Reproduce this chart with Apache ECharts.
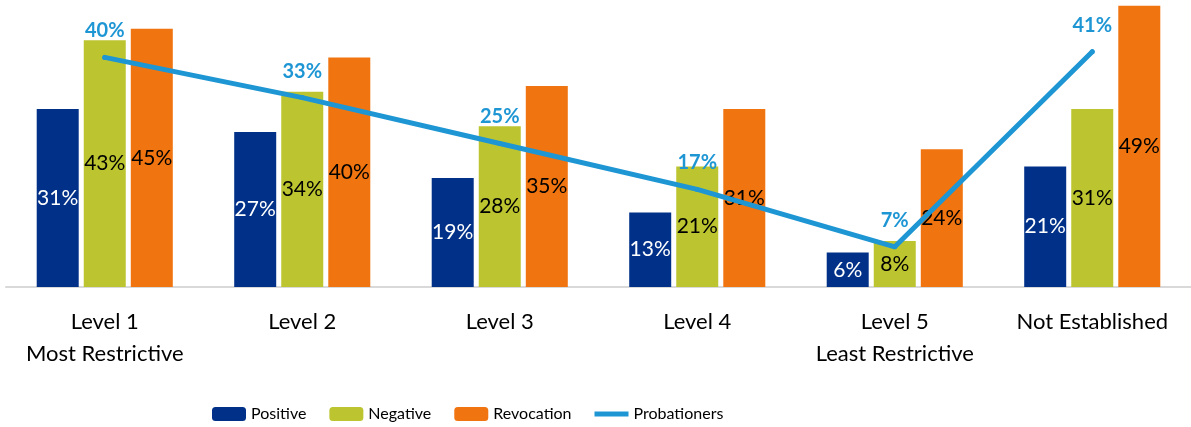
<!DOCTYPE html>
<html lang="en">
<head>
    <meta charset="UTF-8">
    <title>Probationers by level</title>
    <script type="text/javascript" src="https://cdn.jsdelivr.net/npm/echarts@6/dist/echarts.min.js"></script>
    <style>
        html, body { margin: 0; padding: 0; background: #fff; }
        #main { width: 1191px; height: 427px; }
    </style>
</head>
<body>
<div id="main"></div>
<script>
    // categories
    var levels = ['Level 1\nMost Restrictive', 'Level 2', 'Level 3', 'Level 4', 'Level 5\nLeast Restrictive', 'Not Established'];
    // series values (%)
    var positive = [31, 27, 19, 13, 6, 21];
    var negative = [43, 34, 28, 21, 8, 31];
    var revocation = [45, 40, 35, 31, 24, 49];
    var probationers = [40, 33, 25, 17, 7, 41];

    var font = 'Lato';
    var chart = echarts.init(document.getElementById('main'));

    function barLabel(color) {
        return {
            show: true,
            position: 'inside',
            formatter: '{c}%',
            color: color,
            fontFamily: font,
            fontSize: 21
        };
    }

    var option = {
        animation: false,
        grid: {
            left: 6,
            width: 1189,
            top: 0,
            bottom: 140
        },
        legend: {
            left: 207,
            bottom: 0,
            itemWidth: 34,
            itemHeight: 14,
            itemGap: 23,
            textStyle: { fontFamily: font, fontSize: 16, color: '#000' },
            data: ['Positive', 'Negative', 'Revocation', {
                name: 'Probationers',
                icon: 'path://M0,0 L34,0 L34,5 L0,5 Z'
            }]
        },
        xAxis: {
            type: 'category',
            data: levels,
            axisLine: { lineStyle: { color: '#d9d9d9', width: 2 } },
            axisTick: { show: false },
            axisLabel: {
                color: '#000',
                fontFamily: font,
                fontSize: 22,
                lineHeight: 32,
                margin: 19,
                interval: 0
            }
        },
        yAxis: {
            type: 'value',
            min: 0,
            max: 50,
            show: false,
            splitLine: { show: false }
        },
        series: [
            {
                name: 'Positive',
                type: 'bar',
                barWidth: 42,
                barGap: '12%',
                itemStyle: { color: '#003087' },
                label: barLabel('#fff'),
                data: positive
            },
            {
                name: 'Negative',
                type: 'bar',
                barWidth: 42,
                barGap: '12%',
                itemStyle: { color: '#bcc52f' },
                label: barLabel('#000'),
                data: negative
            },
            {
                name: 'Revocation',
                type: 'bar',
                barWidth: 42,
                barGap: '12%',
                itemStyle: { color: '#f0740f' },
                label: barLabel('#000'),
                data: revocation
            },
            {
                name: 'Probationers',
                type: 'line',
                symbol: 'circle',
                symbolSize: 5,
                itemStyle: { color: '#1e96d4' },
                lineStyle: { color: '#1e96d4', width: 5, cap: 'round', join: 'round' },
                label: {
                    show: true,
                    position: 'top',
                    distance: 14,
                    formatter: '{c}%',
                    color: '#1e96d4',
                    fontFamily: font,
                    fontWeight: 'bold',
                    fontSize: 20
                },
                z: 5,
                data: probationers
            }
        ]
    };
    chart.setOption(option);
</script>
</body>
</html>
